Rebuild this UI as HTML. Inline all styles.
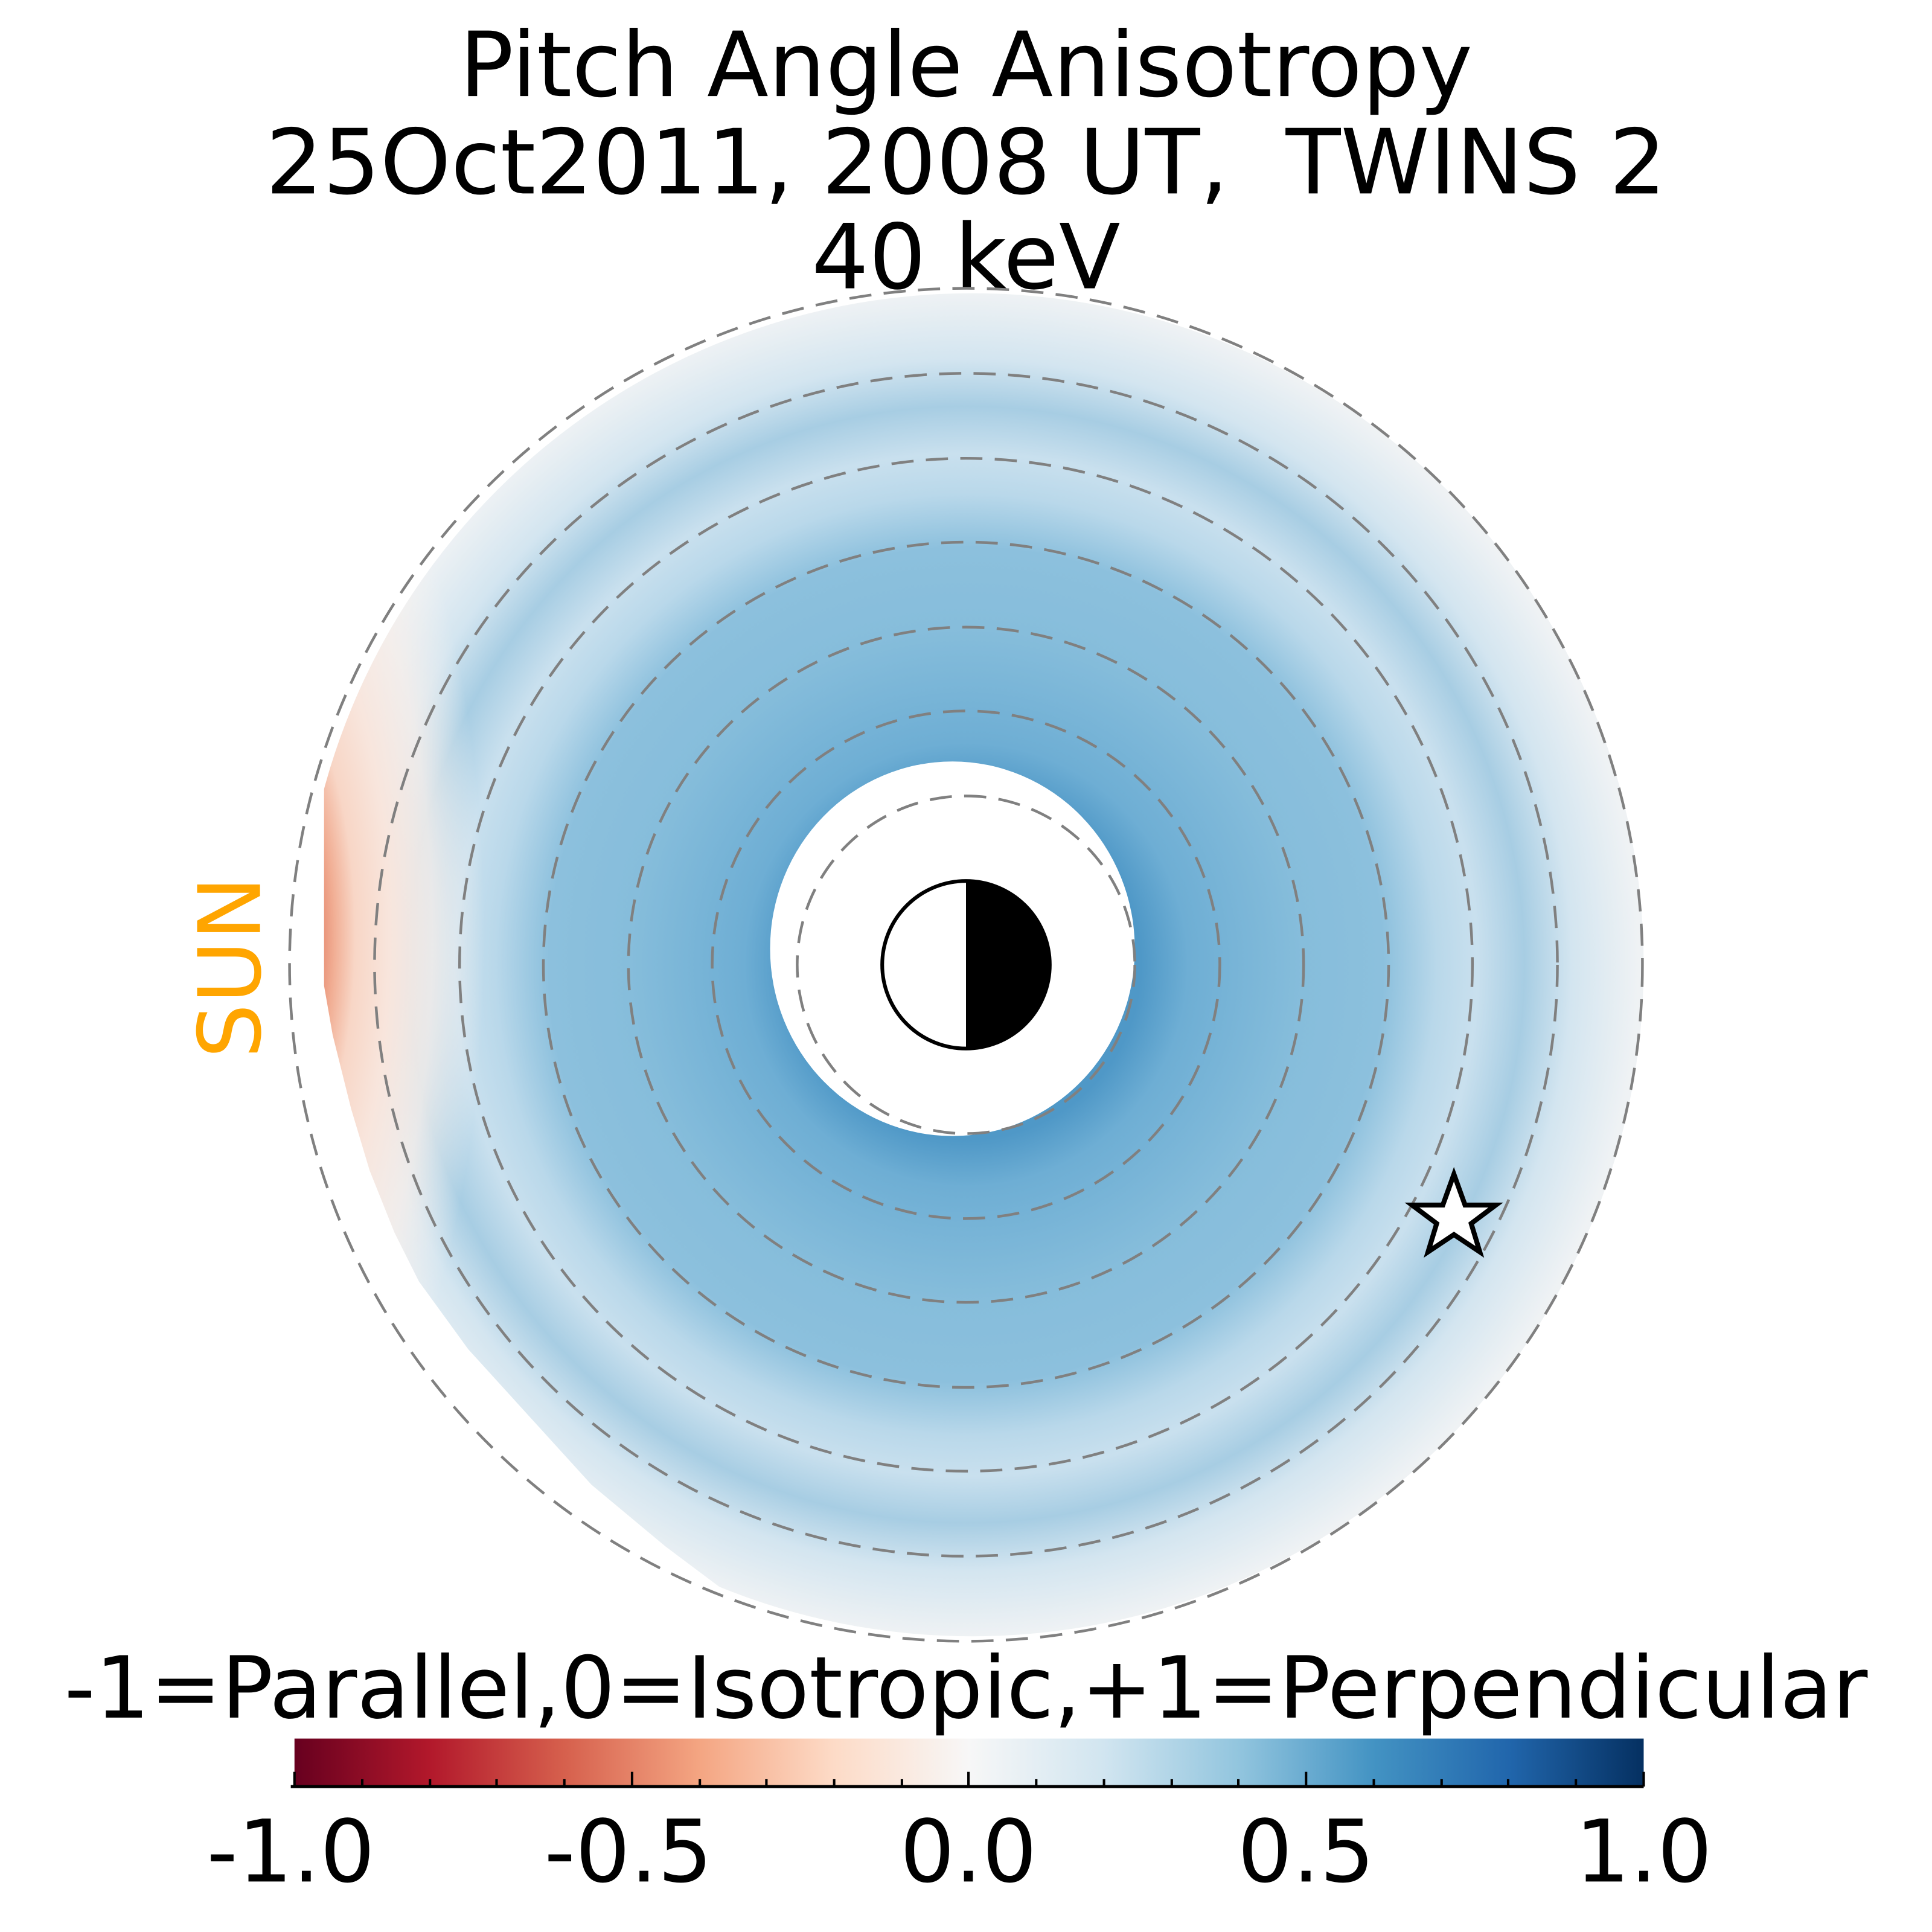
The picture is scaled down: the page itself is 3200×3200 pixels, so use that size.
<!DOCTYPE html>
<html><head><meta charset="utf-8"><style>html,body{margin:0;padding:0;background:#fff}svg{display:block}</style></head>
<body>
<svg xmlns="http://www.w3.org/2000/svg" width="3200" height="3200" viewBox="0 0 1568 1568">
<defs>
<radialGradient id="rg" gradientUnits="userSpaceOnUse" cx="784" cy="783" r="546">
<stop offset="0.26" stop-color="#4f98c7"/>
<stop offset="0.33" stop-color="#6eaed4"/>
<stop offset="0.5" stop-color="#86bddb"/>
<stop offset="0.62" stop-color="#8cc0dd"/>
<stop offset="0.7" stop-color="#b9d8ea"/>
<stop offset="0.76" stop-color="#c9e0ee"/>
<stop offset="0.83" stop-color="#a7cde3"/>
<stop offset="0.9" stop-color="#d3e5f0"/>
<stop offset="1" stop-color="#eff2f4"/>
</radialGradient>
<radialGradient id="red" gradientUnits="userSpaceOnUse" cx="200" cy="760" r="300" gradientTransform="translate(200 760) scale(0.7 1.8) translate(-200 -760)">
<stop offset="0.28" stop-color="#e68a70"/>
<stop offset="0.34" stop-color="#f1ae94"/>
<stop offset="0.42" stop-color="#f8d6c6"/>
<stop offset="0.55" stop-color="#f8e5dc"/>
<stop offset="0.72" stop-color="#f6eeea" stop-opacity="0.8"/>
<stop offset="0.92" stop-color="#f4f2f1" stop-opacity="0"/>
</radialGradient>
<linearGradient id="cb" x1="0" x2="1" y1="0" y2="0">
<stop offset="0" stop-color="#67001f"/>
<stop offset="0.1" stop-color="#b2182b"/>
<stop offset="0.2" stop-color="#d6604d"/>
<stop offset="0.3" stop-color="#f4a582"/>
<stop offset="0.4" stop-color="#fddbc7"/>
<stop offset="0.5" stop-color="#f7f7f7"/>
<stop offset="0.6" stop-color="#d1e5f0"/>
<stop offset="0.7" stop-color="#92c5de"/>
<stop offset="0.8" stop-color="#4393c3"/>
<stop offset="0.9" stop-color="#2166ac"/>
<stop offset="1" stop-color="#053061"/>
</linearGradient>
<clipPath id="disc"><circle cx="789" cy="783" r="545"/></clipPath>
</defs>
<g font-family="DejaVu Sans, Liberation Sans, sans-serif" text-anchor="middle">
<text x="784" y="78" font-size="73">Pitch Angle Anisotropy</text>
<text x="784" y="157" font-size="73">25Oct2011, 2008 UT,&#160; TWINS 2</text>
<text x="784" y="234" font-size="73">40 keV</text>
</g>
<g clip-path="url(#disc)">
<circle cx="784" cy="783" r="560" fill="url(#rg)"/>
<rect x="200" y="150" width="700" height="1300" fill="url(#red)"/>
</g>
<path d="M263 640 L263 800 L270 840 L285 900 L300 950 L320 1000 L340 1040 L380 1095 L430 1150 L480 1205 L540 1255 L600 1300 L520 1330 L200 1330 L200 640 Z" fill="#fff"/>
<ellipse cx="773" cy="770" rx="148" ry="152" fill="#fff"/>
<g fill="none" stroke="#808080" stroke-width="2.2" stroke-dasharray="18 10">
<circle cx="784" cy="783" r="549"/>
<circle cx="784" cy="783" r="480"/>
<circle cx="784" cy="783" r="411"/>
<circle cx="784" cy="783" r="343"/>
<circle cx="784" cy="783" r="274"/>
<circle cx="784" cy="783" r="206"/>
<circle cx="784" cy="783" r="137"/>
</g>
<path d="M784 714 A69 69 0 0 1 784 852 Z" fill="#000"/>
<circle cx="784" cy="783" r="68" fill="none" stroke="#000" stroke-width="3"/>
<polygon points="1180,953 1189,978 1214,978 1194,993 1201,1016 1180,1002 1159,1016 1166,993 1146,978 1171,978" fill="#fff" stroke="#000" stroke-width="4" stroke-linejoin="miter"/>
<text x="0" y="0" transform="translate(211 785) rotate(-90)" font-family="DejaVu Sans, Liberation Sans, sans-serif" font-size="70" fill="#ffa500" text-anchor="middle">SUN</text>
<text x="784" y="1394" font-family="DejaVu Sans, Liberation Sans, sans-serif" font-size="69.5" text-anchor="middle">-1=Parallel,0=Isotropic,+1=Perpendicular</text>
<rect x="239" y="1411" width="1095" height="38" fill="url(#cb)"/>
<line x1="236" y1="1450" x2="1334" y2="1450" stroke="#000" stroke-width="2.5"/>
<g stroke="#000" stroke-width="2">
<line x1="239" y1="1450" x2="239" y2="1438"/><line x1="513" y1="1450" x2="513" y2="1438"/><line x1="786" y1="1450" x2="786" y2="1438"/><line x1="1060" y1="1450" x2="1060" y2="1438"/><line x1="1334" y1="1450" x2="1334" y2="1438"/>
<line x1="294" y1="1450" x2="294" y2="1444"/><line x1="349" y1="1450" x2="349" y2="1444"/><line x1="403" y1="1450" x2="403" y2="1444"/><line x1="458" y1="1450" x2="458" y2="1444"/>
<line x1="568" y1="1450" x2="568" y2="1444"/><line x1="622" y1="1450" x2="622" y2="1444"/><line x1="677" y1="1450" x2="677" y2="1444"/><line x1="732" y1="1450" x2="732" y2="1444"/>
<line x1="841" y1="1450" x2="841" y2="1444"/><line x1="896" y1="1450" x2="896" y2="1444"/><line x1="951" y1="1450" x2="951" y2="1444"/><line x1="1005" y1="1450" x2="1005" y2="1444"/>
<line x1="1115" y1="1450" x2="1115" y2="1444"/><line x1="1170" y1="1450" x2="1170" y2="1444"/><line x1="1224" y1="1450" x2="1224" y2="1444"/><line x1="1279" y1="1450" x2="1279" y2="1444"/>
</g>
<g font-family="DejaVu Sans, Liberation Sans, sans-serif" font-size="70" text-anchor="middle">
<text x="236" y="1527">-1.0</text>
<text x="510" y="1527">-0.5</text>
<text x="786" y="1527">0.0</text>
<text x="1060" y="1527">0.5</text>
<text x="1334" y="1527">1.0</text>
</g>
</svg>
</body></html>
